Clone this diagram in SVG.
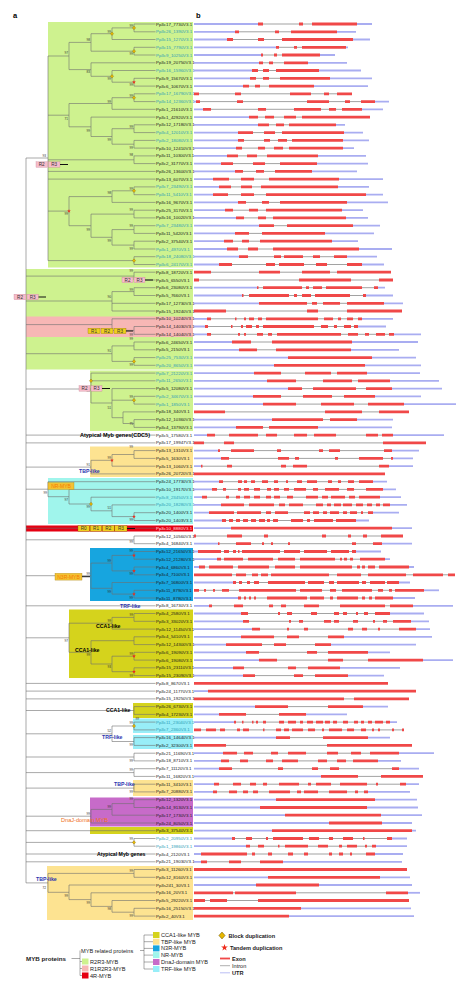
<svg xmlns="http://www.w3.org/2000/svg" xmlns:xlink="http://www.w3.org/1999/xlink" width="474" height="992" viewBox="0 0 474 992">
<style>
text{font-family:"Liberation Sans",Arial,sans-serif}
.gl text{font-size:4.4px}
.k{fill:#1a1a1a}.t{fill:#2e9db6}.w{fill:#ffe0e0}
.u{stroke:#a9adf1;stroke-width:1.8;fill:none}
.i{stroke:#7a7a7a;stroke-width:0.7;fill:none}
.e{stroke:#f04848;stroke-width:2.8;fill:none}
.tree{stroke:#6e6e6e;stroke-width:0.6;fill:none}
.bs{font-size:3.2px;fill:#333;text-anchor:end}
.gr{fill:#cef28f}.pk{fill:#f7b7b5}.or{fill:#fde391}.nr{fill:#a0f5ec}.bl{fill:#17a5df}.ol{fill:#d5d31c}.tr{fill:#98eef8}.pu{fill:#c76bc9}.rd{fill:#e60012}
.dp{fill:#f6bccb;stroke:#c47b8c;stroke-width:0.3}.dy{fill:#efcf1e;stroke:#7d6500;stroke-width:0.3}
.dt{font-size:4.6px;fill:#333;text-anchor:middle}
.bar{stroke:#111;stroke-width:1}
.grp{font-size:5.2px;font-weight:bold}
.blu{fill:#2b36b0}
.lg{font-size:5.6px;fill:#222}
.lgl{stroke:#555;stroke-width:0.5;fill:none}
</style>
<defs>
<path id="dia" d="M0-1.8L1.6 0 0 1.8-1.6 0Z" fill="#e8b800" stroke="#6e5600" stroke-width="0.3"/>
<path id="star" d="M0-1L0.225-0.309L0.951-0.309L0.363 0.118L0.588 0.809L0 0.382L-0.588 0.809L-0.363 0.118L-0.951-0.309L-0.225-0.309Z" fill="#ee2a1a"/>
</defs>
<rect width="474" height="992" fill="#fff"/>
<g id="clade-boxes">
<rect class="gr" x="48" y="22" width="145" height="245.5"/>
<rect class="gr" x="26" y="269" width="167" height="100.5"/>
<rect class="pk" x="26" y="316.5" width="167" height="20.5"/>
<rect class="gr" x="90" y="370.5" width="103" height="60.5"/>
<rect class="or" x="90" y="446.5" width="103" height="30.5"/>
<rect class="nr" x="48" y="478" width="145" height="46"/>
<rect class="rd" x="26" y="525.5" width="167" height="6"/>
<rect class="bl" x="90" y="548" width="103" height="53"/>
<rect class="ol" x="69" y="609.5" width="124" height="68.5"/>
<rect class="ol" x="133" y="703" width="60" height="15"/>
<rect class="tr" x="133" y="718.5" width="60" height="14.5"/>
<rect class="tr" x="133" y="735" width="60" height="14"/>
<rect class="or" x="133" y="780" width="60" height="16"/>
<rect class="pu" x="90" y="797.5" width="103" height="29"/>
<rect class="ol" x="90" y="827" width="103" height="7"/>
<rect class="or" x="47" y="866" width="146" height="54"/>
</g>
<g id="connectors" class="tree">
<path d="M134 24V31.8M134 24H155.5M134 31.8H155.5M112 27.9V39.5M112 27.9H134M112 39.5H155.5M134 47.3V55M134 47.3H155.5M134 55H155.5M91 33.7V51.2M91 33.7H112M91 51.2H134M134 78.3V86.1M134 78.3H155.5M134 86.1H155.5M112 70.5V82.2M112 70.5H155.5M112 82.2H134M91 62.8V76.3M91 62.8H155.5M91 76.3H112M69 42.4V69.6M69 42.4H91M69 69.6H91"/>
<path d="M134 93.8V101.6M134 93.8H155.5M134 101.6H155.5M112 97.7V109.3M112 97.7H134M112 109.3H155.5M134 124.8V132.6M134 124.8H155.5M134 132.6H155.5M134 140.4V148.1M134 140.4H155.5M134 148.1H155.5M112 128.7V144.2M112 128.7H134M112 144.2H134M91 117.1V136.5M91 117.1H155.5M91 136.5H112M69 103.5V126.8M69 103.5H112M69 126.8H91"/>
<path d="M134 155.9V163.6M134 155.9H155.5M134 163.6H155.5M134 186.9V194.7M134 186.9H155.5M134 194.7H155.5M112 190.8V202.4M112 190.8H134M112 202.4H155.5M134 210.2V217.9M134 210.2H155.5M134 217.9H155.5M134 225.7V233.4M134 225.7H155.5M134 233.4H155.5M134 241.2V249M134 241.2H155.5M134 249H155.5M112 229.6V245.1M112 229.6H134M112 245.1H134M91 214.1V237.3M91 214.1H134M91 237.3H112M69 196.6V225.7M69 196.6H112M69 225.7H91M134 256.7V264.5M134 256.7H155.5M134 264.5H155.5"/>
<path d="M48 56V260.6M48 56H69M48 115.2H69M48 159.8H134M48 171.4H155.5M48 179.1H155.5M48 211.1H69M48 260.6H134M26 158V882.9M26 158H48"/>
<path d="M134 272.2V280M134 272.2H155.5M134 280H155.5M26 276.1H134M134 287.7V295.5M134 287.7H155.5M134 295.5H155.5M112 291.6V311M112 291.6H134M112 303.3H155.5M112 311H155.5M26 301H112M134 326.5V334.3M134 326.5H155.5M134 334.3H155.5M112 318.8V330.4M112 318.8H155.5M112 330.4H134M26 324.6H112M134 342V349.8M134 342H155.5M134 349.8H155.5M134 357.6V365.3M134 357.6H155.5M134 365.3H155.5M112 345.9V361.4M112 345.9H134M112 361.4H134M26 353.7H112"/>
<path d="M134 396.3V404.1M134 396.3H155.5M134 404.1H155.5M134 419.6V427.4M134 419.6H155.5M134 427.4H155.5M123 411.9V423.5M123 411.9H155.5M123 423.5H134M112 388.6V417.7M112 388.6H155.5M112 400.2H134M112 417.7H123M91 373.1V403M91 373.1H155.5M91 380.8H155.5M91 403H112M26 389H91M26 435.1H155.5M26 442.9H155.5"/>
<path d="M134 450.6V458.4M134 450.6H155.5M134 458.4H155.5M112 454.5V466.2M112 454.5H134M112 466.2H155.5M91 460.3V473.9M91 460.3H112M91 473.9H155.5M26 467.1H91"/>
<path d="M134 512.7V520.5M134 512.7H155.5M134 520.5H155.5M112 504.9V516.6M112 504.9H155.5M112 516.6H134M91 497.2V510.8M91 497.2H155.5M91 510.8H112M69 489.4V504M69 489.4H155.5M69 504H91M48 481.7V496.7M48 481.7H155.5M48 496.7H69M26 489.2H48M26 528.2H155.5M134 536V543.7M134 536H155.5M134 543.7H155.5M26 539.8H134"/>
<path d="M134 551.5V559.2M134 551.5H155.5M134 559.2H155.5M134 567V574.8M134 567H155.5M134 574.8H155.5M112 555.4V570.9M112 555.4H134M112 570.9H134M134 590.3V598M134 590.3H155.5M134 598H155.5M112 582.5V594.1M112 582.5H155.5M112 594.1H134M91 563.1V588.3M91 563.1H112M91 588.3H112M26 575.7H91M26 605.8H155.5"/>
<path d="M134 613.5V621.3M134 613.5H155.5M134 621.3H155.5M112 617.4V629.1M112 617.4H134M112 629.1H155.5M134 636.8V644.6M134 636.8H155.5M134 644.6H155.5M134 652.3V660.1M134 652.3H155.5M134 660.1H155.5M134 667.8V675.6M134 667.8H155.5M134 675.6H155.5M112 656.2V671.7M112 656.2H134M112 671.7H134M91 640.7V664M91 640.7H134M91 664H112M69 623.2V652.3M69 623.2H112M69 652.3H91M26 637.8H69M26 683.4H155.5M26 691.1H155.5M26 698.9H155.5"/>
<path d="M134 706.6V714.4M134 706.6H155.5M134 714.4H155.5M26 710.5H134M134 722.1V729.9M134 722.1H155.5M134 729.9H155.5M134 737.6V745.4M134 737.6H155.5M134 745.4H155.5M112 726V741.5M112 726H134M112 741.5H134M26 733.8H112M134 753.2V760.9M134 753.2H155.5M134 760.9H155.5M26 757H134M134 768.7V776.4M134 768.7H155.5M134 776.4H155.5M26 772.6H134M134 784.2V791.9M134 784.2H155.5M134 791.9H155.5M26 788.1H134"/>
<path d="M134 799.7V807.5M134 799.7H155.5M134 807.5H155.5M112 803.6V815.2M112 803.6H134M112 815.2H155.5M91 809.4V823M91 809.4H112M91 823H155.5M26 816.2H91M26 830.7H155.5M134 838.5V846.2M134 838.5H155.5M134 846.2H155.5M26 842.4H134M26 854H155.5M26 861.8H155.5"/>
<path d="M134 869.5V877.3M134 869.5H155.5M134 877.3H155.5M134 908.3V916.1M134 908.3H155.5M134 916.1H155.5M112 900.5V912.2M112 900.5H155.5M112 912.2H134M91 892.8V906.4M91 892.8H155.5M91 906.4H112M69 885V899.6M69 885H155.5M69 899.6H91M48 873.4V892.3M48 873.4H134M48 892.3H69M26 882.9H48"/>
</g>
<g id="bootstrap">
<text class="bs" x="133" y="26.9">99</text><text class="bs" x="111" y="32.7">99</text><text class="bs" x="133" y="54.5">99</text><text class="bs" x="90" y="41.4">98</text><text class="bs" x="133" y="85.5">99</text><text class="bs" x="111" y="79.5">99</text><text class="bs" x="90" y="72.5">83</text><text class="bs" x="68" y="54">97</text>
<text class="bs" x="133" y="96.7">99</text><text class="bs" x="111" y="102.5">99</text><text class="bs" x="133" y="127.7">99</text><text class="bs" x="133" y="148.7">99</text><text class="bs" x="111" y="140.5">99</text><text class="bs" x="90" y="131.5">99</text><text class="bs" x="68" y="119.5">71</text><text class="bs" x="133" y="156">98</text><text class="bs" x="46" y="156.5">93</text>
<text class="bs" x="133" y="189.5">99</text><text class="bs" x="111" y="194">98</text><text class="bs" x="133" y="211">99</text><text class="bs" x="133" y="226.5">99</text><text class="bs" x="133" y="249.5">99</text><text class="bs" x="111" y="241.5">99</text><text class="bs" x="90" y="230.5">99</text><text class="bs" x="68" y="215">99</text>
<text class="bs" x="133" y="271.5">99</text><text class="bs" x="133" y="291">99</text><text class="bs" x="111" y="298">90</text><text class="bs" x="133" y="336">99</text><text class="bs" x="133" y="339.5">99</text><text class="bs" x="133" y="366">99</text><text class="bs" x="111" y="352">91</text>
<text class="bs" x="90" y="392">99</text><text class="bs" x="133" y="398">99</text><text class="bs" x="111" y="409">51</text><text class="bs" x="133" y="424.5">75</text>
<text class="bs" x="133" y="448">99</text><text class="bs" x="111" y="459">99</text><text class="bs" x="90" y="465.5">91</text>
<text class="bs" x="47" y="494">99</text><text class="bs" x="68" y="501">97</text><text class="bs" x="90" y="507.5">99</text><text class="bs" x="111" y="509">51</text><text class="bs" x="133" y="521">99</text><text class="bs" x="133" y="543">99</text>
<text class="bs" x="133" y="551.5">99</text><text class="bs" x="133" y="575">99</text><text class="bs" x="111" y="562">99</text><text class="bs" x="133" y="598.5">99</text><text class="bs" x="111" y="593">99</text><text class="bs" x="90" y="574.5">99</text>
<text class="bs" x="133" y="616">99</text><text class="bs" x="111" y="622">99</text><text class="bs" x="133" y="655">99</text><text class="bs" x="133" y="677">99</text><text class="bs" x="111" y="668">93</text><text class="bs" x="90" y="656">99</text><text class="bs" x="68" y="642">97</text>
<text class="bs" x="139" y="719.5">99</text><text class="bs" x="133" y="724">99</text><text class="bs" x="133" y="746">99</text><text class="bs" x="111" y="732">52</text><text class="bs" x="133" y="761.5">99</text><text class="bs" x="133" y="771">99</text><text class="bs" x="133" y="793">99</text>
<text class="bs" x="133" y="800">99</text><text class="bs" x="111" y="808">99</text><text class="bs" x="90" y="815">99</text><text class="bs" x="133" y="840">99</text>
<text class="bs" x="133" y="872">99</text><text class="bs" x="133" y="917">99</text><text class="bs" x="111" y="909.5">98</text><text class="bs" x="90" y="903.5">99</text><text class="bs" x="68" y="897">99</text><text class="bs" x="46" y="889">72</text>
</g>
<g id="duplication-marks">
<use xlink:href="#dia" x="134" y="27.9"/><use xlink:href="#dia" x="112" y="33.7"/><use xlink:href="#dia" x="134" y="51.2"/><use xlink:href="#dia" x="112" y="76.3"/><use xlink:href="#dia" x="134" y="97.7"/><use xlink:href="#dia" x="134" y="190.8"/><use xlink:href="#dia" x="134" y="260.6"/><use xlink:href="#dia" x="134" y="361.4"/><use xlink:href="#dia" x="91" y="380.8"/><use xlink:href="#dia" x="134" y="400.2"/><use xlink:href="#dia" x="91" y="504"/><use xlink:href="#dia" x="134" y="726"/><use xlink:href="#dia" x="134" y="842.4"/>
<use xlink:href="#star" transform="translate(134 82.2) scale(2)"/><use xlink:href="#star" transform="translate(69 211.1) scale(2)"/><use xlink:href="#star" transform="translate(112 460.3) scale(2)"/><use xlink:href="#star" transform="translate(134 516.6) scale(2)"/><use xlink:href="#star" transform="translate(134 555.4) scale(2)"/><use xlink:href="#star" transform="translate(134 570.9) scale(2)"/><use xlink:href="#star" transform="translate(134 594.1) scale(2)"/><use xlink:href="#star" transform="translate(134 656.2) scale(2)"/><use xlink:href="#star" transform="translate(134 671.7) scale(2)"/>
</g>
<g id="domain-labels">
<rect class="dp" x="36" y="161.8" width="11.5" height="5.5"/><rect class="dp" x="48.5" y="161.8" width="11.5" height="5.5"/><text class="dt" x="41.7" y="166.2">R2</text><text class="dt" x="54.2" y="166.2">R3</text><path class="bar" d="M60 164.5H68"/>
<rect class="dp" x="122" y="277.2" width="11" height="5.5"/><rect class="dp" x="134" y="277.2" width="11" height="5.5"/><text class="dt" x="127.5" y="281.6">R2</text><text class="dt" x="139.5" y="281.6">R3</text><path class="bar" d="M145 280H153"/>
<rect class="dp" x="14" y="294.2" width="12" height="5.5"/><rect class="dp" x="27" y="294.2" width="11.5" height="5.5"/><text class="dt" x="20" y="298.6">R2</text><text class="dt" x="32.7" y="298.6">R3</text><path class="bar" d="M38.5 297H46"/>
<rect class="dy" x="88" y="328.2" width="12" height="5.5"/><rect class="dy" x="101" y="328.2" width="12" height="5.5"/><rect class="dy" x="114" y="328.2" width="12" height="5.5"/><text class="dt" x="94" y="332.6">R1</text><text class="dt" x="107" y="332.6">R2</text><text class="dt" x="120" y="332.6">R3</text><path class="bar" d="M126 331H133"/>
<rect class="dp" x="79" y="385.7" width="11" height="5.5"/><rect class="dp" x="91" y="385.7" width="11" height="5.5"/><text class="dt" x="84.5" y="390.1">R2</text><text class="dt" x="96.5" y="390.1">R3</text><path class="bar" d="M102 388.5H110"/>
<rect class="dy" x="78" y="525.7" width="11.5" height="5.5"/><rect class="dy" x="90.2" y="525.7" width="11.5" height="5.5"/><rect class="dy" x="102.4" y="525.7" width="11.8" height="5.5"/><rect class="dy" x="114.8" y="525.7" width="12.2" height="5.5"/><text class="dt" x="83.7" y="530.1">R0</text><text class="dt" x="96" y="530.1">R1</text><text class="dt" x="108.3" y="530.1">R2</text><text class="dt" x="120.9" y="530.1">R3</text><path class="bar" d="M127 528.5H135"/>
<rect x="48" y="482.5" width="26" height="7" fill="#f3c233" stroke="#a07800" stroke-width="0.3"/><text x="61" y="487.8" font-size="5" fill="#f57c00" text-anchor="middle">NR-MYB</text>
<rect x="55" y="573.3" width="27" height="6.8" fill="#f3c233" stroke="#a07800" stroke-width="0.3"/><text x="68.5" y="578.5" font-size="5" fill="#f57c00" text-anchor="middle">N3R-MYB</text><path class="bar" d="M82 576.7H90"/>
</g>
<g id="group-labels" class="grp">
<text x="80" y="437" font-size="5.5">Atypical Myb genes(CDC5)</text>
<text class="blu" x="79" y="473">TBP-like</text>
<text class="blu" x="120" y="608">TRF-like</text>
<text x="96" y="628">CCA1-like</text>
<text x="75" y="652">CCA1-like</text>
<text x="106" y="712">CCA1-like</text>
<text class="blu" x="102" y="739">TRF-like</text>
<text class="blu" x="114" y="786">TBP-like</text>
<text x="61" y="822" font-weight="normal" font-size="5.6" fill="#f07020">DnaJ-domain MYB</text>
<text x="97" y="856">Atypical Myb genes</text>
<text class="blu" x="36" y="881">TBP-like</text>
</g>
<text x="13" y="18" font-size="7.5" font-weight="bold">a</text>
<text x="196" y="18" font-size="7.5" font-weight="bold">b</text>
<g id="genes" class="gl">
<g id="r1" transform="translate(0 24)"><text class="k" x="156" y="1.5">Pp3c17_7730V3.1</text><path class="u" d="M194 0H258M357 0H372"/><path class="i" d="M258 0H357"/><path class="e" d="M258 0H263M299 0H303M312 0H357"/></g>
<g id="r2" transform="translate(0 31.8)"><text class="t" x="156" y="1.5">Pp3c26_1390V3.1</text><path class="u" d="M194 0H235M337 0H356"/><path class="i" d="M235 0H337"/><path class="e" d="M235 0H239M275 0H279M291 0H337"/></g>
<g id="r3" transform="translate(0 39.5)"><text class="t" x="156" y="1.5">Pp3c15_1270V3.1</text><path class="u" d="M194 0H227M353 0H370"/><path class="i" d="M227 0H353"/><path class="e" d="M227 0H233M258 0H264M282 0H353"/></g>
<g id="r4" transform="translate(0 47.3)"><text class="t" x="156" y="1.5">Pp3c15_7790V3.1</text><path class="u" d="M194 0H276M346 0H348"/><path class="i" d="M276 0H346"/><path class="e" d="M276 0H279M294 0H297M302 0H346"/></g>
<g id="r5" transform="translate(0 55)"><text class="t" x="156" y="1.5">Pp3c9_10250V3.1</text><path class="u" d="M194 0H261M320 0H335"/><path class="i" d="M261 0H320"/><path class="e" d="M261 0H263M274 0H277M282 0H320"/></g>
<g id="r6" transform="translate(0 62.8)"><text class="k" x="156" y="1.5">Pp3c19_20750V3.1</text><path class="u" d="M194 0H259M308 0H347"/><path class="i" d="M259 0H308"/><path class="e" d="M259 0H263M269 0H273M284 0H308"/></g>
<g id="r7" transform="translate(0 70.5)"><text class="t" x="156" y="1.5">Pp3c16_15960V3.1</text><path class="u" d="M194 0H252M319 0H361"/><path class="i" d="M252 0H319"/><path class="e" d="M252 0H258M263 0H269M276 0H319"/></g>
<g id="r8" transform="translate(0 78.3)"><text class="k" x="156" y="1.5">Pp3c9_15670V3.1</text><path class="u" d="M194 0H250M330 0H372"/><path class="i" d="M250 0H330"/><path class="e" d="M250 0H256M263 0H269M280 0H330"/></g>
<g id="r9" transform="translate(0 86.1)"><text class="k" x="156" y="1.5">Pp3c6_10670V3.1</text><path class="u" d="M194 0H243M314 0H368"/><path class="i" d="M243 0H314"/><path class="e" d="M243 0H249M255 0H260M269 0H314"/></g>
<g id="r10" transform="translate(0 93.8)"><text class="t" x="156" y="1.5">Pp3c17_16790V3.1</text><path class="i" d="M194 0H352"/><path class="e" d="M194 0H199M235 0H241M290 0H311M324 0H329M337 0H352"/></g>
<g id="r11" transform="translate(0 101.6)"><text class="t" x="156" y="1.5">Pp3c14_12360V3.1</text><path class="u" d="M194 0H196M375 0H389"/><path class="i" d="M196 0H375"/><path class="e" d="M196 0H200M237 0H243M307 0H329M345 0H350M361 0H375"/></g>
<g id="r12" transform="translate(0 109.3)"><text class="k" x="156" y="1.5">Pp3c1_21610V3.1</text><path class="u" d="M194 0H203M362 0H383"/><path class="i" d="M203 0H362"/><path class="e" d="M203 0H211M258 0H266M294 0H321M329 0H336M342 0H362"/></g>
<g id="r13" transform="translate(0 117.1)"><text class="k" x="156" y="1.5">Pp3c1_42920V3.1</text><path class="u" d="M194 0H249"/><path class="i" d="M249 0H370"/><path class="e" d="M249 0H258M265 0H274M284 0H296M302 0H370"/></g>
<g id="r14" transform="translate(0 124.8)"><text class="k" x="156" y="1.5">Pp3c12_17180V3.1</text><path class="u" d="M194 0H258M336 0H345"/><path class="i" d="M258 0H336"/><path class="e" d="M258 0H269M276 0H284M289 0H336"/></g>
<g id="r15" transform="translate(0 132.6)"><text class="t" x="156" y="1.5">Pp3c4_12010V3.1</text><path class="u" d="M194 0H238M344 0H363"/><path class="i" d="M238 0H344"/><path class="e" d="M238 0H253M264 0H275M282 0H344"/></g>
<g id="r16" transform="translate(0 140.4)"><text class="t" x="156" y="1.5">Pp3c2_18080V3.1</text><path class="u" d="M194 0H238M343 0H369"/><path class="i" d="M238 0H343"/><path class="e" d="M238 0H244M264 0H270M278 0H287M292 0H343"/></g>
<g id="r17" transform="translate(0 148.1)"><text class="k" x="156" y="1.5">Pp3c10_12410V3.1</text><path class="u" d="M194 0H236M343 0H354"/><path class="i" d="M236 0H343"/><path class="e" d="M236 0H242M258 0H265M274 0H283M289 0H343"/></g>
<g id="r18" transform="translate(0 155.9)"><text class="k" x="156" y="1.5">Pp3c11_10300V3.1</text><path class="u" d="M194 0H227M318 0H366"/><path class="i" d="M227 0H318"/><path class="e" d="M227 0H238M247 0H257M267 0H318"/></g>
<g id="r19" transform="translate(0 163.6)"><text class="k" x="156" y="1.5">Pp3c2_31770V3.1</text><path class="u" d="M194 0H221M317 0H368"/><path class="i" d="M221 0H317"/><path class="e" d="M221 0H233M253 0H265M280 0H317"/></g>
<g id="r20" transform="translate(0 171.4)"><text class="k" x="156" y="1.5">Pp3c26_13600V3.1</text><path class="u" d="M194 0H235M312 0H357"/><path class="i" d="M235 0H312"/><path class="e" d="M235 0H243M256 0H264M275 0H312"/></g>
<g id="r21" transform="translate(0 179.1)"><text class="k" x="156" y="1.5">Pp3c13_6070V3.1</text><path class="u" d="M194 0H213M339 0H383"/><path class="i" d="M213 0H339"/><path class="e" d="M213 0H229M241 0H254M269 0H339"/></g>
<g id="r22" transform="translate(0 186.9)"><text class="t" x="156" y="1.5">Pp3c7_23490V3.1</text><path class="u" d="M194 0H219M338 0H369"/><path class="i" d="M219 0H338"/><path class="e" d="M219 0H231M241 0H252M261 0H338"/></g>
<g id="r23" transform="translate(0 194.7)"><text class="t" x="156" y="1.5">Pp3c11_5410V3.1</text><path class="u" d="M194 0H213M366 0H383"/><path class="i" d="M213 0H366"/><path class="e" d="M213 0H228M241 0H254M266 0H366"/></g>
<g id="r24" transform="translate(0 202.4)"><text class="k" x="156" y="1.5">Pp3c16_9670V3.1</text><path class="u" d="M194 0H238M347 0H388"/><path class="i" d="M238 0H347"/><path class="e" d="M238 0H246M262 0H269M280 0H347"/></g>
<g id="r25" transform="translate(0 210.2)"><text class="k" x="156" y="1.5">Pp3c25_3170V3.1</text><path class="u" d="M194 0H225M342 0H363"/><path class="i" d="M225 0H342"/><path class="e" d="M225 0H233M249 0H258M266 0H342"/></g>
<g id="r26" transform="translate(0 217.9)"><text class="k" x="156" y="1.5">Pp3c16_10020V3.1</text><path class="u" d="M194 0H236M346 0H368"/><path class="i" d="M236 0H346"/><path class="e" d="M236 0H244M258 0H266M273 0H346"/></g>
<g id="r27" transform="translate(0 225.7)"><text class="t" x="156" y="1.5">Pp3c7_23480V3.1</text><path class="u" d="M194 0H259M353 0H380"/><path class="i" d="M259 0H353"/><path class="e" d="M259 0H274M287 0H353"/></g>
<g id="r28" transform="translate(0 233.4)"><text class="k" x="156" y="1.5">Pp3c11_5420V3.1</text><path class="u" d="M194 0H235M325 0H374"/><path class="i" d="M235 0H325"/><path class="e" d="M235 0H249M262 0H325"/></g>
<g id="r29" transform="translate(0 241.2)"><text class="k" x="156" y="1.5">Pp3c2_37540V3.1</text><path class="u" d="M194 0H224M332 0H358"/><path class="i" d="M224 0H332"/><path class="e" d="M224 0H233M242 0H249M260 0H332"/></g>
<g id="r30" transform="translate(0 249)"><text class="t" x="156" y="1.5">Pp3c1_4970V3.1</text><path class="u" d="M194 0H227M359 0H392"/><path class="i" d="M227 0H359"/><path class="e" d="M227 0H238M248 0H258M273 0H359"/></g>
<g id="r31" transform="translate(0 256.7)"><text class="t" x="156" y="1.5">Pp3c18_24080V3.1</text><path class="u" d="M194 0H239M347 0H377"/><path class="i" d="M239 0H347"/><path class="e" d="M239 0H248M274 0H281M284 0H303M313 0H320M334 0H347"/></g>
<g id="r32" transform="translate(0 264.5)"><text class="t" x="156" y="1.5">Pp3c6_24170V3.1</text><path class="u" d="M194 0H219M362 0H384"/><path class="i" d="M219 0H362"/><path class="e" d="M219 0H232M266 0H275M279 0H304M316 0H327M347 0H362"/></g>
<g id="r33" transform="translate(0 272.2)"><text class="k" x="156" y="1.5">Pp3c8_18720V3.1</text><path class="i" d="M194 0H391"/><path class="e" d="M194 0H211M259 0H280M302 0H330M337 0H391"/></g>
<g id="r34" transform="translate(0 280)"><text class="k" x="156" y="1.5">Pp3c5_6550V3.1</text><path class="i" d="M194 0H393"/><path class="e" d="M194 0H199M299 0H351M379 0H393"/></g>
<g id="r35" transform="translate(0 287.7)"><text class="k" x="156" y="1.5">Pp3c6_23080V3.1</text><path class="u" d="M194 0H257M378 0H385"/><path class="i" d="M257 0H378"/><path class="e" d="M257 0H258.5M263 0H302M306 0H309M313 0H322M326 0H362M374 0H378"/></g>
<g id="r36" transform="translate(0 295.5)"><text class="k" x="156" y="1.5">Pp3c5_7660V3.1</text><path class="u" d="M194 0H242M366 0H393"/><path class="i" d="M242 0H366"/><path class="e" d="M242 0H243.5M249 0H289M294 0H297M302 0H311M315 0H350M363 0H366"/></g>
<g id="r37" transform="translate(0 303.3)"><text class="k" x="156" y="1.5">Pp3c17_12730V3.1</text><path class="u" d="M194 0H259M384 0H403"/><path class="i" d="M259 0H384"/><path class="e" d="M259 0H307M312 0H317M323 0H340M347 0H384"/></g>
<g id="r38" transform="translate(0 311)"><text class="k" x="156" y="1.5">Pp3c15_19240V3.1</text><path class="i" d="M194 0H402"/><path class="e" d="M194 0H226M307 0H318M347 0H402"/></g>
<g id="r39" transform="translate(0 318.8)"><text class="k" x="156" y="1.5">Pp3c10_10240V3.1</text><path class="u" d="M194 0H207M362 0H393"/><path class="i" d="M207 0H362"/><path class="e" d="M207 0H211M235 0H236.5M244 0H246M249 0H254M258 0H262M266 0H318M324 0H333M338 0H341M347 0H353M358 0H362"/></g>
<g id="r40" transform="translate(0 326.5)"><text class="k" x="156" y="1.5">Pp3c14_14030V3.1</text><path class="u" d="M194 0H205M358 0H386"/><path class="i" d="M205 0H358"/><path class="e" d="M205 0H208M231 0H232.5M241 0H243M246 0H252M256 0H259M263 0H314M321 0H328M334 0H337M344 0H351M354 0H358"/></g>
<g id="r41" transform="translate(0 334.3)"><text class="k" x="156" y="1.5">Pp3c14_14040V3.1</text><path class="u" d="M194 0H207M394 0H421"/><path class="i" d="M207 0H394"/><path class="e" d="M207 0H211M238 0H240M244 0H246M257 0H263M268 0H272M277 0H341M348 0H358M365 0H369M376 0H385M389 0H394"/></g>
<g id="r42" transform="translate(0 342)"><text class="k" x="156" y="1.5">Pp3c6_24650V3.1</text><path class="u" d="M194 0H232M352 0H418"/><path class="i" d="M232 0H352"/><path class="e" d="M232 0H251M272 0H352"/></g>
<g id="r43" transform="translate(0 349.8)"><text class="k" x="156" y="1.5">Pp3c5_2150V3.1</text><path class="u" d="M194 0H239M351 0H399"/><path class="i" d="M239 0H351"/><path class="e" d="M239 0H257M276 0H351"/></g>
<g id="r44" transform="translate(0 357.6)"><text class="t" x="156" y="1.5">Pp3c25_7530V3.1</text><path class="u" d="M194 0H288M372 0H416"/><path class="e" d="M288 0H372"/></g>
<g id="r45" transform="translate(0 365.3)"><text class="t" x="156" y="1.5">Pp3c20_8650V3.1</text><path class="u" d="M194 0H274M365 0H421"/><path class="e" d="M274 0H365"/></g>
<g id="r46" transform="translate(0 373.1)"><text class="t" x="156" y="1.5">Pp3c7_21220V3.1</text><path class="u" d="M194 0H254M367 0H420"/><path class="i" d="M254 0H367"/><path class="e" d="M254 0H281M305 0H331M337 0H367"/></g>
<g id="r47" transform="translate(0 380.8)"><text class="t" x="156" y="1.5">Pp3c11_2650V3.1</text><path class="u" d="M194 0H267M390 0H439"/><path class="i" d="M267 0H390"/><path class="e" d="M267 0H296M323 0H352M358 0H390"/></g>
<g id="r48" transform="translate(0 388.6)"><text class="k" x="156" y="1.5">Pp3c5_12080V3.1</text><path class="u" d="M194 0H288M392 0H442"/><path class="i" d="M288 0H392"/><path class="e" d="M288 0H302M313 0H356M366 0H392"/></g>
<g id="r49" transform="translate(0 396.3)"><text class="t" x="156" y="1.5">Pp3c2_34670V3.1</text><path class="u" d="M194 0H253M375 0H421"/><path class="i" d="M253 0H375"/><path class="e" d="M253 0H281M303 0H332M344 0H375"/></g>
<g id="r50" transform="translate(0 404.1)"><text class="t" x="156" y="1.5">Pp3c1_1850V3.1</text><path class="u" d="M194 0H263M404 0H456"/><path class="i" d="M263 0H404"/><path class="e" d="M263 0H296M321 0H354M368 0H404"/></g>
<g id="r51" transform="translate(0 411.9)"><text class="k" x="156" y="1.5">Pp3c18_340V3.1</text><path class="i" d="M194 0H409"/><path class="e" d="M194 0H225M325 0H362M379 0H409"/></g>
<g id="r52" transform="translate(0 419.6)"><text class="k" x="156" y="1.5">Pp3c12_10360V3.1</text><path class="u" d="M194 0H272M357 0H393"/><path class="i" d="M272 0H357"/><path class="e" d="M272 0H323M330 0H357"/></g>
<g id="r53" transform="translate(0 427.4)"><text class="k" x="156" y="1.5">Pp3c4_13790V3.1</text><path class="u" d="M194 0H236M318 0H392"/><path class="i" d="M236 0H318"/><path class="e" d="M236 0H263M269 0H318"/></g>
<g id="r54" transform="translate(0 435.1)"><text class="k" x="156" y="1.5">Pp3c5_17580V3.1</text><path class="u" d="M194 0H207M393 0H444"/><path class="i" d="M207 0H393"/><path class="e" d="M207 0H215M229 0H258M266 0H277M294 0H307M314 0H336M366 0H378M382 0H393"/></g>
<g id="r55" transform="translate(0 442.9)"><text class="k" x="156" y="1.5">Pp3c17_19947V3.1</text><path class="i" d="M194 0H426"/><path class="e" d="M194 0H204M224 0H234M383 0H426"/></g>
<g id="r56" transform="translate(0 450.6)"><text class="k" x="156" y="1.5">Pp3c13_1310V3.1</text><path class="u" d="M194 0H218M392 0H419"/><path class="i" d="M218 0H392"/><path class="e" d="M218 0H220M231 0H254M277 0H281M319 0H323M329 0H340M384 0H392"/></g>
<g id="r57" transform="translate(0 458.4)"><text class="k" x="156" y="1.5">Pp3c5_1630V3.1</text><path class="u" d="M194 0H221M393 0H413"/><path class="i" d="M221 0H393"/><path class="e" d="M221 0H229M278 0H289M295 0H299M335 0H338M359 0H383M391 0H393"/></g>
<g id="r58" transform="translate(0 466.2)"><text class="k" x="156" y="1.5">Pp3c13_1060V3.1</text><path class="u" d="M194 0H201M389 0H413"/><path class="i" d="M201 0H389"/><path class="e" d="M201 0H202.5M227 0H232M281 0H286M293 0H307M379 0H389"/></g>
<g id="r59" transform="translate(0 473.9)"><text class="k" x="156" y="1.5">Pp3c26_20720V3.1</text><path class="e" d="M194 0H385"/></g>
<g id="r60" transform="translate(0 481.7)"><text class="k" x="156" y="1.5">Pp3c24_17730V3.1</text><path class="u" d="M194 0H219M373 0H387"/><path class="i" d="M219 0H373"/><path class="e" d="M219 0H223M238 0H242M244 0H247M251 0H255M262 0H268M274 0H278M286 0H288M297 0H302M307 0H317M328 0H332M338 0H341M348 0H354M359 0H373"/></g>
<g id="r61" transform="translate(0 489.4)"><text class="k" x="156" y="1.5">Pp3c10_19170V3.1</text><path class="u" d="M194 0H212M383 0H396"/><path class="i" d="M212 0H383"/><path class="e" d="M212 0H217M223 0H226M238 0H241M244 0H249M254 0H260M267 0H271M274 0H279M284 0H289M294 0H306M313 0H318M325 0H339M347 0H354M366 0H383"/></g>
<g id="r62" transform="translate(0 497.2)"><text class="t" x="156" y="1.5">Pp3c8_23450V3.1</text><path class="u" d="M194 0H202M380 0H401"/><path class="i" d="M202 0H380"/><path class="e" d="M202 0H207M226 0H229M236 0H240M244 0H250M254 0H260M266 0H271M274 0H280M287 0H293M306 0H318M322 0H328M331 0H345M349 0H355M359 0H380"/></g>
<g id="r63" transform="translate(0 504.9)"><text class="t" x="156" y="1.5">Pp3c20_18280V3.1</text><path class="u" d="M194 0H221M390 0H407"/><path class="i" d="M221 0H390"/><path class="e" d="M221 0H244M249 0H274M279 0H285M289 0H303M316 0H323M327 0H331M334 0H341M343 0H352M356 0H363M367 0H372M376 0H380M383 0H390"/></g>
<g id="r64" transform="translate(0 512.7)"><text class="k" x="156" y="1.5">Pp3c20_1400V3.1</text><path class="u" d="M194 0H209M373 0H399"/><path class="i" d="M209 0H373"/><path class="e" d="M209 0H234M237 0H261M266 0H271M275 0H288M304 0H310M313 0H319M323 0H327M330 0H339M343 0H347M350 0H357M361 0H363M368 0H373"/></g>
<g id="r65" transform="translate(0 520.5)"><text class="k" x="156" y="1.5">Pp3c20_1403V3.1</text><path class="u" d="M194 0H222M356 0H369"/><path class="i" d="M222 0H356"/><path class="e" d="M222 0H226M229 0H233M236 0H240M243 0H248M251 0H256M259 0H265M267 0H270M273 0H278M291 0H303M307 0H310M314 0H333M336 0H356"/></g>
<g id="r66" transform="translate(0 528.2)"><text class="w" x="156" y="1.5">Pp3c10_8880V3.1</text><path class="u" d="M194 0H231M392 0H412"/><path class="e" d="M231 0H392"/></g>
<g id="r67" transform="translate(0 536)"><text class="k" x="156" y="1.5">Pp3c12_10560V3.1</text><path class="i" d="M194 0H403"/><path class="e" d="M194 0H196M227 0H242M264 0H268M322 0H326M348 0H351M363 0H367M381 0H403"/></g>
<g id="r68" transform="translate(0 543.7)"><text class="k" x="156" y="1.5">Pp3c4_16840V3.1</text><path class="u" d="M194 0H218M382 0H412"/><path class="i" d="M218 0H382"/><path class="e" d="M218 0H219.5M236 0H251M262 0H264M271 0H273M288 0H290M352 0H356M373 0H382"/></g>
<g id="r69" transform="translate(0 551.5)"><text class="k" x="156" y="1.5">Pp3c12_21650V3.1</text><path class="u" d="M194 0H198M356 0H381"/><path class="i" d="M198 0H356"/><path class="e" d="M198 0H221M224 0H229M233 0H236M238 0H239.5M242 0H280M284 0H300M304 0H327M331 0H349M352 0H356"/></g>
<g id="r70" transform="translate(0 559.2)"><text class="k" x="156" y="1.5">Pp3c12_21280V3.1</text><path class="u" d="M194 0H217M385 0H390"/><path class="i" d="M217 0H385"/><path class="e" d="M217 0H221M224 0H243M248 0H273M278 0H295M300 0H335M340 0H342M344 0H347M350 0H353M360 0H385"/></g>
<g id="r71" transform="translate(0 567)"><text class="k" x="156" y="1.5">Pp3c4_6860V3.1</text><path class="u" d="M194 0H199M409 0H414"/><path class="i" d="M199 0H409"/><path class="e" d="M199 0H205M209 0H233M238 0H269M275 0H295M300 0H352M357 0H360M362 0H365M368 0H375M379 0H409"/></g>
<g id="r72" transform="translate(0 574.8)"><text class="k" x="156" y="1.5">Pp3c4_7100V3.1</text><path class="i" d="M194 0H455"/><path class="e" d="M194 0H232M236 0H246M252 0H258M261 0H268M271 0H329M337 0H361M368 0H406M413 0H443M448 0H455"/></g>
<g id="r73" transform="translate(0 582.5)"><text class="k" x="156" y="1.5">Pp3c7_16800V3.1</text><path class="u" d="M194 0H233M399 0H410"/><path class="i" d="M233 0H399"/><path class="e" d="M233 0H236M239 0H242M247 0H250M254 0H259M268 0H305M308 0H324M329 0H334M337 0H359M362 0H366M370 0H385M387 0H399"/></g>
<g id="r74" transform="translate(0 590.3)"><text class="k" x="156" y="1.5">Pp3c11_8790V3.1</text><path class="u" d="M424 0H439"/><path class="i" d="M194 0H424"/><path class="e" d="M194 0H199M204 0H206M213 0H215M222 0H229M239 0H296M300 0H322M330 0H336M342 0H372M378 0H383M389 0H392M395 0H424"/></g>
<g id="r75" transform="translate(0 598)"><text class="k" x="156" y="1.5">Pp3c11_8780V3.1</text><path class="u" d="M194 0H238M393 0H415"/><path class="i" d="M238 0H393"/><path class="e" d="M238 0H241M244 0H246M249 0H251M254 0H256M267 0H307M310 0H324M330 0H333M337 0H358M362 0H365M369 0H372M375 0H393"/></g>
<g id="r76" transform="translate(0 605.8)"><text class="k" x="156" y="1.5">Pp3c8_16730V3.1</text><path class="u" d="M194 0H209M413 0H453"/><path class="i" d="M209 0H413"/><path class="e" d="M209 0H212M234 0H243M269 0H273M281 0H286M304 0H319M340 0H385M390 0H413"/></g>
<g id="r77" transform="translate(0 613.5)"><text class="k" x="156" y="1.5">Pp3c4_2580V3.1</text><path class="u" d="M194 0H241M390 0H424"/><path class="i" d="M241 0H390"/><path class="e" d="M241 0H248M278 0H280M287 0H292M311 0H317M334 0H339M343 0H347M356 0H358M364 0H368M375 0H390"/></g>
<g id="r78" transform="translate(0 621.3)"><text class="k" x="156" y="1.5">Pp3c3_33020V3.1</text><path class="u" d="M194 0H243M411 0H429"/><path class="i" d="M243 0H411"/><path class="e" d="M243 0H249M289 0H291M299 0H303M324 0H331M334 0H339M353 0H358M373 0H375M383 0H387M393 0H411"/></g>
<g id="r79" transform="translate(0 629.1)"><text class="k" x="156" y="1.5">Pp3c12_11450V3.1</text><path class="u" d="M194 0H252M416 0H430"/><path class="i" d="M252 0H416"/><path class="e" d="M252 0H260M287 0H289M304 0H308M348 0H353M362 0H367M378 0H380M399 0H416"/></g>
<g id="r80" transform="translate(0 636.8)"><text class="k" x="156" y="1.5">Pp3c4_5410V3.1</text><path class="u" d="M194 0H241M344 0H432"/><path class="i" d="M241 0H344"/><path class="e" d="M241 0H274M287 0H299M328 0H344"/></g>
<g id="r81" transform="translate(0 644.6)"><text class="k" x="156" y="1.5">Pp3c12_14300V3.1</text><path class="u" d="M194 0H226M331 0H416"/><path class="i" d="M226 0H331"/><path class="e" d="M226 0H262M274 0H286M315 0H331"/></g>
<g id="r82" transform="translate(0 652.3)"><text class="k" x="156" y="1.5">Pp3c6_19090V3.1</text><path class="u" d="M194 0H246M368 0H390"/><path class="i" d="M246 0H368"/><path class="e" d="M246 0H259M307 0H317M328 0H368"/></g>
<g id="r83" transform="translate(0 660.1)"><text class="k" x="156" y="1.5">Pp3c6_19080V3.1</text><path class="u" d="M194 0H259M423 0H453"/><path class="i" d="M259 0H423"/><path class="e" d="M259 0H277M328 0H343M368 0H423"/></g>
<g id="r84" transform="translate(0 667.8)"><text class="k" x="156" y="1.5">Pp3c15_23110V3.1</text><path class="u" d="M194 0H233M340 0H400"/><path class="i" d="M233 0H340"/><path class="e" d="M233 0H244M288 0H296M308 0H340"/></g>
<g id="r85" transform="translate(0 675.6)"><text class="k" x="156" y="1.5">Pp3c15_23090V3.1</text><path class="u" d="M194 0H243M348 0H384"/><path class="i" d="M243 0H348"/><path class="e" d="M243 0H255M294 0H303M315 0H348"/></g>
<g id="r86" transform="translate(0 683.4)"><text class="k" x="156" y="1.5">Pp3c8_8670V3.1</text><path class="e" d="M194 0H388"/></g>
<g id="r87" transform="translate(0 691.1)"><text class="k" x="156" y="1.5">Pp3c24_11770V3.1</text><path class="u" d="M194 0H208"/><path class="e" d="M208 0H416"/></g>
<g id="r88" transform="translate(0 698.9)"><text class="k" x="156" y="1.5">Pp3c15_19250V3.1</text><path class="i" d="M194 0H409"/><path class="e" d="M194 0H344M354 0H409"/></g>
<g id="r89" transform="translate(0 706.6)"><text class="k" x="156" y="1.5">Pp3c26_6730V3.1</text><path class="u" d="M194 0H255M363 0H388"/><path class="i" d="M255 0H363"/><path class="e" d="M255 0H288M328 0H363"/></g>
<g id="r90" transform="translate(0 714.4)"><text class="k" x="156" y="1.5">Pp3c4_17230V3.1</text><path class="u" d="M194 0H219M306 0H347"/><path class="i" d="M219 0H306"/><path class="e" d="M219 0H246M279 0H306"/></g>
<g id="r91" transform="translate(0 722.1)"><text class="t" x="156" y="1.5">Pp3c11_23040V3.1</text><path class="u" d="M194 0H234M390 0H397"/><path class="i" d="M234 0H390"/><path class="e" d="M234 0H236M242 0H243.5M252 0H253.5M256 0H258M263 0H266M279 0H284M288 0H296M300 0H303M307 0H313M316 0H323M325 0H330M333 0H337M343 0H348M354 0H358M361 0H364M368 0H372M375 0H383M386 0H390"/></g>
<g id="r92" transform="translate(0 729.9)"><text class="t" x="156" y="1.5">Pp3c7_2360V3.1</text><path class="i" d="M194 0H404"/><path class="e" d="M194 0H201M206 0H216M220 0H225M237 0H240M243 0H249M263 0H264.5M276 0H281M284 0H289M292 0H303M308 0H315M322 0H324M329 0H342M347 0H354M361 0H366M372 0H374M378 0H380M392 0H394M402 0H404"/></g>
<g id="r93" transform="translate(0 737.6)"><text class="k" x="156" y="1.5">Pp3c16_14640V3.1</text><path class="u" d="M194 0H276M368 0H390"/><path class="i" d="M276 0H368"/><path class="e" d="M276 0H290M323 0H368"/></g>
<g id="r94" transform="translate(0 745.4)"><text class="k" x="156" y="1.5">Pp3c2_32300V3.1</text><path class="i" d="M194 0H412"/><path class="e" d="M194 0H226M327 0H412"/></g>
<g id="r95" transform="translate(0 753.2)"><text class="k" x="156" y="1.5">Pp3c21_11690V3.1</text><path class="u" d="M194 0H223M399 0H434"/><path class="i" d="M223 0H399"/><path class="e" d="M223 0H237M244 0H253M271 0H278M288 0H306M327 0H338M351 0H361M370 0H399"/></g>
<g id="r96" transform="translate(0 760.9)"><text class="k" x="156" y="1.5">Pp3c18_8710V3.1</text><path class="u" d="M194 0H221M378 0H401"/><path class="i" d="M221 0H378"/><path class="e" d="M221 0H229M240 0H248M266 0H273M282 0H298M318 0H327M337 0H346M353 0H378"/></g>
<g id="r97" transform="translate(0 768.7)"><text class="k" x="156" y="1.5">Pp3c7_11120V3.1</text><path class="u" d="M194 0H219M399 0H419"/><path class="i" d="M219 0H399"/><path class="e" d="M219 0H232M278 0H283M312 0H318M330 0H339M392 0H399"/></g>
<g id="r98" transform="translate(0 776.4)"><text class="k" x="156" y="1.5">Pp3c11_16820V3.1</text><path class="u" d="M194 0H321"/><path class="i" d="M321 0H423"/><path class="e" d="M321 0H358M381 0H423"/></g>
<g id="r99" transform="translate(0 784.2)"><text class="k" x="156" y="1.5">Pp3c11_3410V3.1</text><path class="u" d="M194 0H214M406 0H419"/><path class="i" d="M214 0H406"/><path class="e" d="M214 0H219M233 0H241M250 0H256M263 0H267M279 0H299M308 0H311M316 0H331M340 0H367M376 0H378M400 0H406"/></g>
<g id="r100" transform="translate(0 791.9)"><text class="k" x="156" y="1.5">Pp3c7_20880V3.1</text><path class="u" d="M194 0H213M368 0H410"/><path class="i" d="M213 0H368"/><path class="e" d="M213 0H217M229 0H237M243 0H248M253 0H258M269 0H290M297 0H301M304 0H318M329 0H347M355 0H358M364 0H368"/></g>
<g id="r101" transform="translate(0 799.7)"><text class="k" x="156" y="1.5">Pp3c12_1320V3.1</text><path class="u" d="M194 0H276M375 0H417"/><path class="e" d="M276 0H375"/></g>
<g id="r102" transform="translate(0 807.5)"><text class="k" x="156" y="1.5">Pp3c14_9130V3.1</text><path class="u" d="M194 0H260M367 0H418"/><path class="e" d="M260 0H367"/></g>
<g id="r103" transform="translate(0 815.2)"><text class="k" x="156" y="1.5">Pp3c17_1730V3.1</text><path class="u" d="M194 0H285M381 0H422"/><path class="e" d="M285 0H381"/></g>
<g id="r104" transform="translate(0 823)"><text class="k" x="156" y="1.5">Pp3c24_8050V3.1</text><path class="u" d="M194 0H329M382 0H412"/><path class="e" d="M329 0H382"/></g>
<g id="r105" transform="translate(0 830.7)"><text class="k" x="156" y="1.5">Pp3c3_37540V3.1</text><path class="u" d="M194 0H272M412 0H416"/><path class="e" d="M272 0H412"/></g>
<g id="r106" transform="translate(0 838.5)"><text class="t" x="156" y="1.5">Pp3c2_20950V3.1</text><path class="u" d="M194 0H232M392 0H407"/><path class="i" d="M232 0H392"/><path class="e" d="M232 0H235M246 0H252M266 0H268M273 0H303M309 0H319M329 0H333M343 0H353M363 0H364.5M387 0H392"/></g>
<g id="r107" transform="translate(0 846.2)"><text class="t" x="156" y="1.5">Pp3c1_19860V3.1</text><path class="u" d="M194 0H246M376 0H407"/><path class="i" d="M246 0H376"/><path class="e" d="M246 0H250M258 0H264M278 0H279.5M285 0H308M318 0H328M339 0H342M347 0H357M365 0H367M372 0H376"/></g>
<g id="r108" transform="translate(0 854)"><text class="k" x="156" y="1.5">Pp3c4_2120V3.1</text><path class="u" d="M194 0H201M375 0H403"/><path class="i" d="M201 0H375"/><path class="e" d="M201 0H247M252 0H255M268 0H272M288 0H293M304 0H308M329 0H332M339 0H343M350 0H352M366 0H375"/></g>
<g id="r109" transform="translate(0 861.8)"><text class="k" x="156" y="1.5">Pp3c21_19030V3.1</text><path class="u" d="M194 0H201M283 0H402"/><path class="i" d="M201 0H283"/><path class="e" d="M201 0H207M229 0H241M260 0H283"/></g>
<g id="r110" transform="translate(0 869.5)"><text class="k" x="156" y="1.5">Pp3c3_11260V3.1</text><path class="e" d="M194 0H407"/></g>
<g id="r111" transform="translate(0 877.3)"><text class="k" x="156" y="1.5">Pp3c12_8160V3.1</text><path class="u" d="M194 0H268M380 0H410"/><path class="e" d="M268 0H380"/></g>
<g id="r112" transform="translate(0 885)"><text class="k" x="156" y="1.5">Pp3s241_30V3.1</text><path class="u" d="M194 0H256M319 0H412"/><path class="e" d="M256 0H319"/></g>
<g id="r113" transform="translate(0 892.8)"><text class="k" x="156" y="1.5">Pp3c16_20V3.1</text><path class="u" d="M408 0H420"/><path class="i" d="M194 0H408"/><path class="e" d="M194 0H233M235 0H296M386 0H408"/></g>
<g id="r114" transform="translate(0 900.5)"><text class="k" x="156" y="1.5">Pp3c5_29220V3.1</text><path class="i" d="M194 0H409"/><path class="e" d="M194 0H205M210 0H227M258 0H409"/></g>
<g id="r115" transform="translate(0 908.3)"><text class="k" x="156" y="1.5">Pp3c16_25150V3.1</text><path class="u" d="M301 0H411"/><path class="e" d="M194 0H301"/></g>
<g id="r116" transform="translate(0 916.1)"><text class="k" x="156" y="1.5">Pp3c2_40V3.1</text><path class="u" d="M289 0H414"/><path class="e" d="M194 0H289"/></g>
</g>
<g id="legend">
<text x="26" y="960.5" font-size="6.2" font-weight="bold" fill="#222">MYB proteins</text>
<path class="lgl" d="M71.5 958.5H80M80 950.5V975.5M80 961.5H82M80 968.5H82M80 975.5H82M140 950.5H144M144 935V969M144 935H153M144 941.7H153M144 948.4H153M144 955.1H153M144 962H153M144 969H153"/>
<text class="lg" x="81" y="952.5" font-size="5.3">MYB related proteins</text>
<rect class="gr" x="82" y="958.5" width="6.5" height="6"/><text class="lg" x="90" y="963.5">R2R3-MYB</text>
<rect class="pk" x="82" y="965.5" width="6.5" height="6"/><text class="lg" x="90" y="970.5">R1R2R3-MYB</text>
<rect class="rd" x="82" y="972.5" width="6.5" height="6"/><text class="lg" x="90" y="977.5">4R-MYB</text>
<rect class="ol" x="153" y="932" width="6.5" height="6"/><text class="lg" x="161" y="937">CCA1-like MYB</text>
<rect class="or" x="153" y="938.7" width="6.5" height="6"/><text class="lg" x="161" y="943.7">TBP-like MYB</text>
<rect class="bl" x="153" y="945.4" width="6.5" height="6"/><text class="lg" x="161" y="950.4">N3R-MYB</text>
<rect class="nr" x="153" y="952.1" width="6.5" height="6"/><text class="lg" x="161" y="957.1">NR-MYB</text>
<rect class="pu" x="153" y="959" width="6.5" height="6"/><text class="lg" x="161" y="964">DnaJ-domain MYB</text>
<rect class="tr" x="153" y="966" width="6.5" height="6"/><text class="lg" x="161" y="971">TRF-like MYB</text>
<use xlink:href="#dia" transform="translate(222 935.5) scale(1.9)"/><text class="lg" x="228.5" y="937.6" font-weight="bold">Block duplication</text>
<use xlink:href="#star" transform="translate(224.5 947.5) scale(3.6)"/><text class="lg" x="230" y="950" font-weight="bold">Tandem duplication</text>
<path d="M220 958.5H230" stroke="#f04848" stroke-width="1.8"/><text class="lg" x="232" y="960.5" font-weight="bold">Exon</text>
<path d="M220 965.7H230" stroke="#7a7a7a" stroke-width="0.6"/><text class="lg" x="232" y="967.7">Intron</text>
<path d="M220 972.8H230" stroke="#a9adf1" stroke-width="0.8"/><text class="lg" x="232" y="974.9" font-weight="bold">UTR</text>
</g>
</svg>
